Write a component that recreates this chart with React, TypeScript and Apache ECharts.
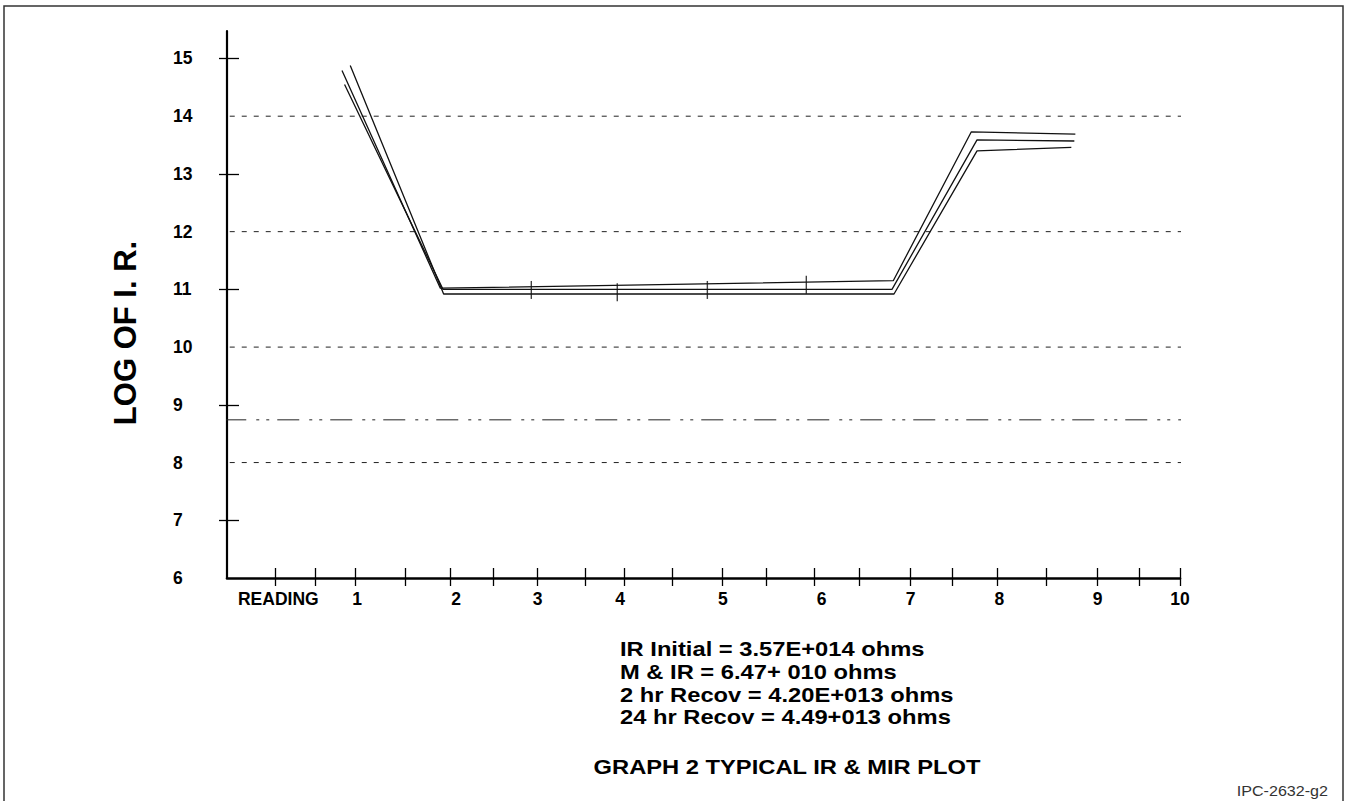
import React, { useEffect, useRef } from "react";
import * as echarts from "echarts";

// ---- data ----
const yLabelValues = [6, 7, 8, 9, 10, 11, 12, 13, 14, 15];
const yTickValues = [7, 9, 11, 13, 15];
const xTickValues = [0.13, 0.56, 1.0, 1.55, 2.04, 2.51, 2.99, 3.51, 3.94, 4.46, 5.0, 5.49, 6.01, 6.5, 7.06, 7.52, 8.01, 8.54, 9.1, 9.56, 10];
const xLabelValues = [0.16, 1.02, 2.1, 2.99, 3.89, 5.01, 6.09, 7.06, 8.03, 9.1, 10];
const xLabelTexts = ["READING", "1", "2", "3", "4", "5", "6", "7", "8", "9", "10"];

const gridLevels = [14, 12, 10, 8];
const limitLevel = 8.74;

const curveA = [[0.855, 14.79], [1.928, 11.02], [6.871, 11.15], [7.723, 13.73], [8.858, 13.69]];
const curveB = [[0.883, 14.55], [1.957, 11.0], [6.857, 11.0], [7.785, 13.59], [8.847, 13.57]];
const curveC = [[0.945, 14.88], [1.964, 10.92], [6.879, 10.92], [7.785, 13.4], [8.814, 13.46]];
const readingMarks = [[2.921, 10.99], [3.859, 10.95], [4.842, 10.99], [5.922, 11.08]];

const resultLines = [
  "IR Initial = 3.57E+014 ohms",
  "M & IR = 6.47+ 010 ohms",
  "2 hr Recov = 4.20E+013 ohms",
  "24 hr Recov = 4.49+013 ohms",
];
const yTitle = "LOG OF I. R.";
const graphTitle = "GRAPH 2 TYPICAL IR & MIR PLOT";
const figId = "IPC-2632-g2";

const X_MIN = -0.4;
const X_MAX = 10;
const Y_MIN = 6;
const Y_MAX = 15.476;

const FONT = "'Liberation Sans', Arial, Helvetica, sans-serif";

export default function App() {
  const ref = useRef<HTMLDivElement>(null);

  useEffect(() => {
    document.body.style.margin = "0";
    if (!ref.current) return;
    const chart = echarts.init(ref.current, undefined, { renderer: "svg" });

    const lineSeries = (data: number[][]) => ({
      type: "line",
      data,
      symbol: "none",
      silent: true,
      clip: false,
      lineStyle: { color: "#111", width: 1.3 },
      z: 5,
    });

    const option: any = {
      animation: false,
      backgroundColor: "#fff",
      grid: { left: 227, right: 165, top: 31, bottom: 223, containLabel: false },
      xAxis: [
        {
          type: "value",
          min: X_MIN,
          max: X_MAX,
          position: "bottom",
          splitLine: { show: false },
          axisLine: { show: true, onZero: false, lineStyle: { color: "#000", width: 2.6 } },
          axisTick: {
            show: true,
            inside: false,
            length: 8,
            customValues: xTickValues,
            lineStyle: { color: "#000", width: 1.3 },
          },
          axisLabel: {
            show: true,
            customValues: xLabelValues,
            margin: 12,
            fontSize: 17.5,
            fontWeight: "bold",
            fontFamily: FONT,
            color: "#000",
            formatter: (val: number) => {
              const i = xLabelValues.findIndex((v) => Math.abs(v - val) < 1e-6);
              return i >= 0 ? xLabelTexts[i] : "";
            },
          },
        },
        {
          type: "value",
          min: X_MIN,
          max: X_MAX,
          position: "bottom",
          splitLine: { show: false },
          axisLine: { show: false, onZero: false },
          axisTick: {
            show: true,
            inside: true,
            length: 10,
            customValues: xTickValues,
            lineStyle: { color: "#000", width: 1.3 },
          },
          axisLabel: { show: false },
        },
      ],
      yAxis: [
        {
          type: "value",
          min: Y_MIN,
          max: Y_MAX,
          position: "left",
          splitLine: { show: false },
          axisLine: { show: true, onZero: false, lineStyle: { color: "#000", width: 2.2 } },
          axisTick: {
            show: true,
            inside: false,
            length: 8,
            customValues: yTickValues,
            lineStyle: { color: "#000", width: 1.3 },
          },
          axisLabel: {
            show: true,
            customValues: yLabelValues,
            align: "left",
            margin: 54,
            padding: [0, 0, 6, 0],
            fontSize: 17.5,
            fontWeight: "bold",
            fontFamily: FONT,
            color: "#000",
          },
        },
        {
          type: "value",
          min: Y_MIN,
          max: Y_MAX,
          position: "left",
          splitLine: { show: false },
          axisLine: { show: false, onZero: false },
          axisTick: {
            show: true,
            inside: true,
            length: 12,
            customValues: yTickValues,
            lineStyle: { color: "#000", width: 1.3 },
          },
          axisLabel: { show: false },
        },
      ],
      series: [
        ...gridLevels.map((v) => ({
          type: "line",
          data: [[-0.37, v], [10.1, v]],
          symbol: "none",
          silent: true,
          clip: false,
          lineStyle: { color: "#222", width: 1, type: [5, 7] },
          z: 2,
        })),
        {
          type: "line",
          data: [[-0.43, limitLevel], [10.08, limitLevel]],
          symbol: "none",
          silent: true,
          clip: false,
          lineStyle: { color: "#222", width: 1, type: [22, 10, 3, 7, 3, 8] },
          z: 2,
        },
        lineSeries(curveA),
        lineSeries(curveB),
        lineSeries(curveC),
        {
          type: "scatter",
          data: readingMarks,
          symbol: "rect",
          symbolSize: [1.4, 18],
          silent: true,
          itemStyle: { color: "#111" },
          z: 6,
        },
      ],
      graphic: [
        {
          type: "rect",
          shape: { x: 4, y: 6, width: 1339, height: 830 },
          style: { fill: "none", stroke: "#333", lineWidth: 1.5 },
          silent: true,
          z: 0,
        },
        {
          type: "text",
          x: 125,
          y: 333,
          rotation: Math.PI / 2,
          style: {
            text: yTitle,
            fontSize: 31,
            fontWeight: "bold",
            fontFamily: FONT,
            fill: "#000",
            align: "center",
            verticalAlign: "middle",
          },
        },
        ...resultLines.map((t, i) => ({
          type: "text",
          x: 620,
          y: 649 + i * 22.8,
          scaleX: 1.13,
          style: {
            text: t,
            fontSize: 21,
            fontWeight: "bold",
            fontFamily: FONT,
            fill: "#000",
            align: "left",
            verticalAlign: "middle",
          },
        })),
        {
          type: "text",
          x: 787,
          y: 767,
          scaleX: 1.13,
          style: {
            text: graphTitle,
            fontSize: 21,
            fontWeight: "bold",
            fontFamily: FONT,
            fill: "#000",
            align: "center",
            verticalAlign: "middle",
          },
        },
        {
          type: "text",
          x: 1328,
          y: 791,
          scaleX: 1.15,
          style: {
            text: figId,
            fontSize: 14,
            fontFamily: FONT,
            fill: "#333",
            align: "right",
            verticalAlign: "middle",
          },
        },
      ],
    };

    chart.setOption(option);
    return () => chart.dispose();
  }, []);

  return <div ref={ref} style={{ width: 1345, height: 801 }} />;
}
